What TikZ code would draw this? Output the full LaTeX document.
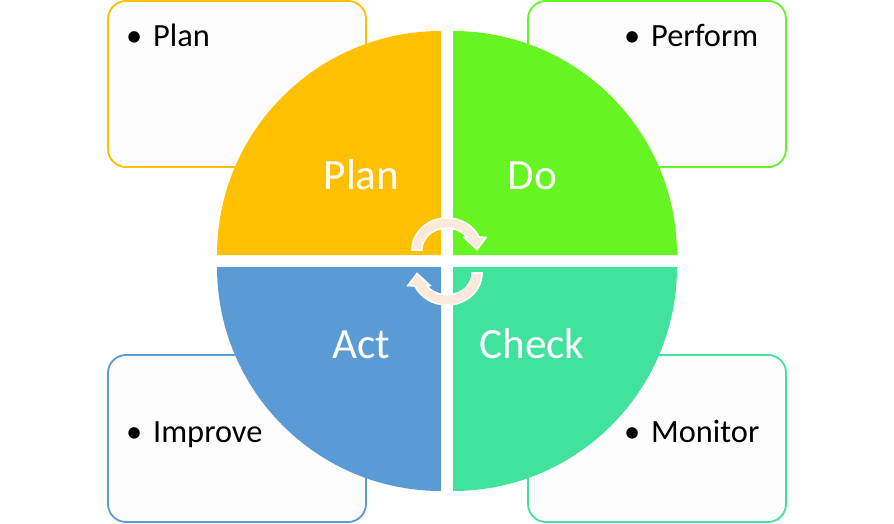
\documentclass[tikz,border=0pt]{standalone}
\usepackage{fontspec}
\setmainfont{Carlito}
\definecolor{cplan}{HTML}{FFC000}
\definecolor{cdo}{HTML}{66F423}
\definecolor{ccheck}{HTML}{40E29C}
\definecolor{cact}{HTML}{5B9BD5}
\definecolor{carrow}{HTML}{FDE9D9}
\definecolor{cbox}{HTML}{FDFDFD}
\tikzset{
  notebox/.style={draw=#1,line width=1.8pt,fill=cbox,rounded corners=18pt},
  quad/.style={fill=#1,draw=none},
  biglabel/.style={text=white,font=\fontsize{43.2}{46}\selectfont,anchor=base,inner sep=0pt},
  bullettext/.style={text=black,font=\fontsize{32.4}{36}\selectfont,anchor=base west,inner sep=0pt},
  cyclearrow/.style={fill=carrow,draw=white,line width=1.6pt,line join=miter}
}
\newcommand{\bul}[1]{\makebox[27pt][l]{•}#1}
\newcommand{\cyc}{(412,273) arc[start angle=180,end angle=24,x radius=35pt,y radius=32pt] -- (486,285.5) -- (477,273.5) -- (464,285.5) -- (467,286) arc[start angle=36.2,end angle=180,x radius=25pt,y radius=22pt] -- cycle}
\begin{document}
\begin{tikzpicture}[x=1pt,y=1pt]
\useasboundingbox (0,0) rectangle (894,523);
% note boxes
\path[notebox=cplan] (108,522) rectangle (366,356);
\path[notebox=cdo] (528,522) rectangle (786,356);
\path[notebox=cact] (108,168) rectangle (366,1);
\path[notebox=ccheck] (528,168) rectangle (786,1);
% quadrants
\fill[quad=cplan] (441,268) -- (217,268) arc[start angle=180,end angle=90,radius=224pt] -- cycle;
\fill[quad=cdo] (453,268) -- (453,492) arc[start angle=90,end angle=0,radius=224pt] -- cycle;
\fill[quad=cact] (441,256) -- (217,256) arc[start angle=180,end angle=270,radius=224pt] -- cycle;
\fill[quad=ccheck] (453,256) -- (677,256) arc[start angle=0,end angle=-90,radius=224pt] -- cycle;
% circular arrows
\path[cyclearrow] \cyc;
\begin{scope}[rotate around={180:(447,261.5)}]
\path[cyclearrow] \cyc;
\end{scope}
% labels
\node[biglabel] (lplan) at (361.5,334) {Plan};
\node[biglabel] (ldo) at (532.5,334) {Do};
\node[biglabel] (lact) at (361.5,165) {Act};
\node[biglabel] (lcheck) at (532,165) {Check};
\node[bullettext] (tplan) at (126,476) {\bul{Plan}};
\node[bullettext] (tperform) at (624,476) {\bul{Perform}};
\node[bullettext] (timprove) at (126,81) {\bul{Improve}};
\node[bullettext] (tmonitor) at (624,81) {\bul{Monitor}};
\end{tikzpicture}
\end{document}
